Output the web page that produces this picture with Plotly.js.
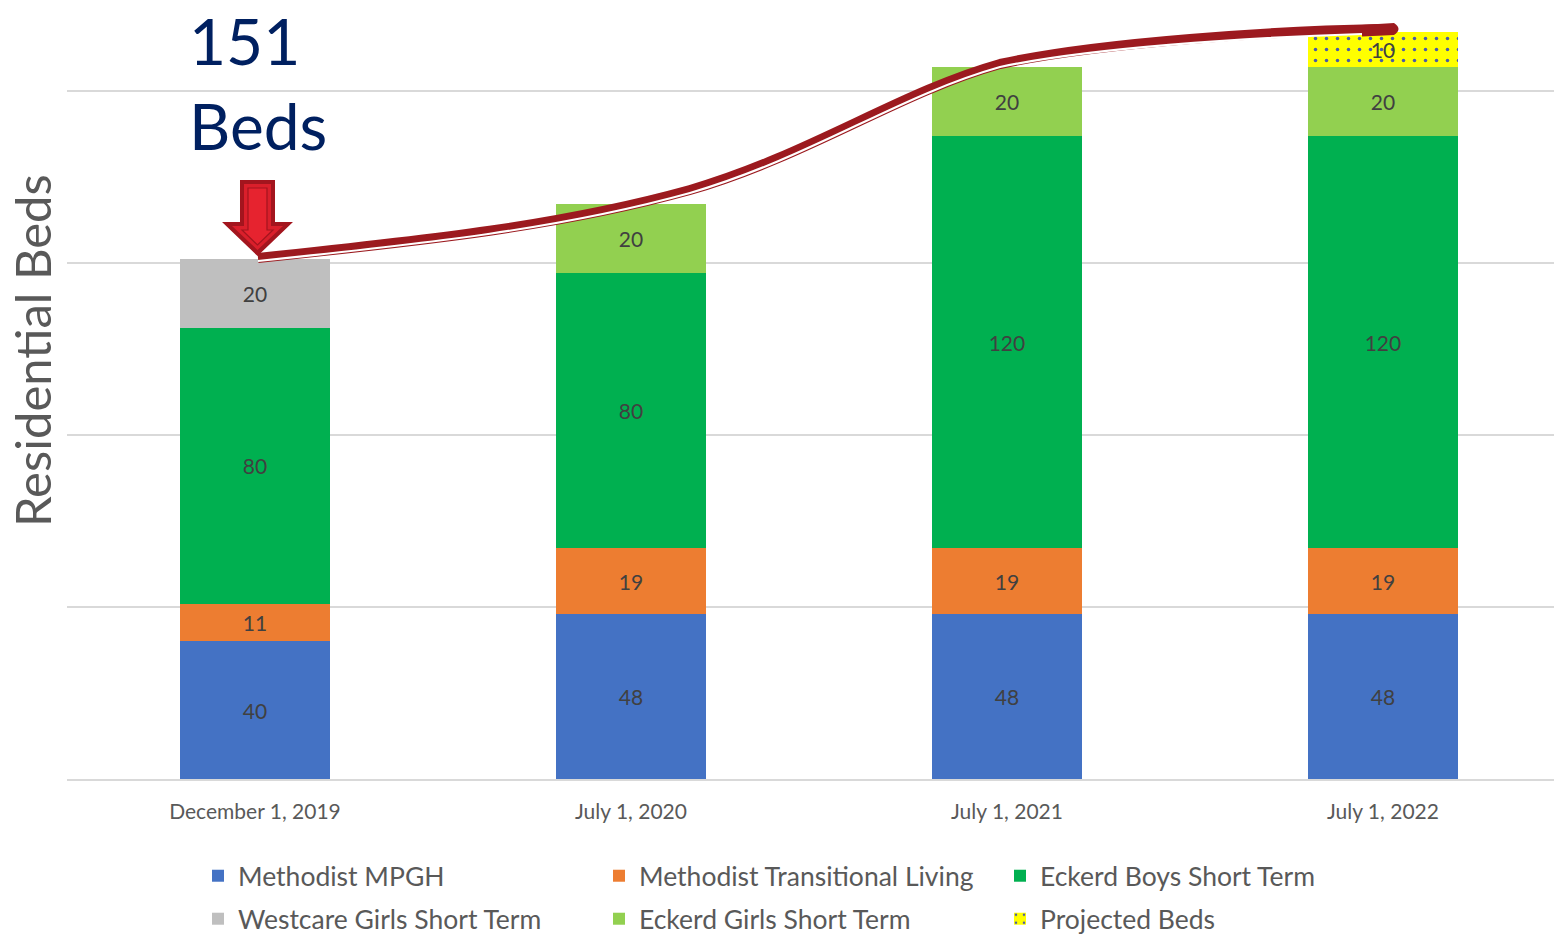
<!DOCTYPE html>
<html>
<head>
<meta charset="utf-8">
<script src="https://cdn.plot.ly/plotly-3.0.1.min.js"></script>
<style>html,body{margin:0;padding:0;background:#fff;}#chart{width:1554px;height:934px;}</style>
</head>
<body>
<div id="chart"></div>
<script>
const categories = ['December 1, 2019', 'July 1, 2020', 'July 1, 2021', 'July 1, 2022'];
const methodistMPGH = [40, 48, 48, 48];
const methodistTransitional = [11, 19, 19, 19];
const eckerdBoysShortTerm = [80, 80, 120, 120];
const westcareGirlsShortTerm = [20, null, null, null];
const eckerdGirlsShortTerm = [null, 20, 20, 20];
const projectedBeds = [null, null, null, 10];
const calloutLines = ['151', 'Beds'];
const yTitle = 'Residential Beds';

const W = 1554, H = 934;
const M = {l: 67, r: 0, t: 22, b: 155, autoexpand: false};
const PW = W - M.l - M.r, PH = H - M.t - M.b;
const px = x => ((x - M.l) / PW).toFixed(5);
const py = y => ((H - M.b - y) / PH).toFixed(5);
// build an SVG path (pixel coords) converted to paper coords; one command per point group
function path(cmds) {
  return cmds.map(c => {
    const pts = [];
    for (let i = 0; i < c[1].length; i += 2) pts.push(px(c[1][i]) + ',' + py(c[1][i + 1]));
    return c[0] + (pts.length ? ' ' + pts.join(' ') : '');
  }).join(' ');
}
function poly(points) {
  const cmds = [['M', points[0]]];
  for (let i = 1; i < points.length; i++) cmds.push(['L', points[i]]);
  cmds.push(['Z', []]);
  return path(cmds);
}

const FONT = 'Lato, "Open Sans", sans-serif';
const labelFont = {family: FONT, size: 21, color: '#404040'};
function barTrace(name, y, color, extra) {
  return Object.assign({
    type: 'bar', name: name, x: categories, y: y,
    marker: {color: color, line: {width: 0}},
    texttemplate: '%{y}', textposition: 'inside', insidetextanchor: 'middle',
    textfont: labelFont, constraintext: 'none', hoverinfo: 'x+y+name'
  }, extra || {});
}

const data = [
  barTrace('Methodist MPGH', methodistMPGH, '#4472C4', {legend: 'legend'}),
  barTrace('Methodist Transitional Living', methodistTransitional, '#ED7D31', {legend: 'legend'}),
  barTrace('Eckerd Boys Short Term', eckerdBoysShortTerm, '#00B050', {legend: 'legend'}),
  barTrace('Westcare Girls Short Term', westcareGirlsShortTerm, '#BFBFBF', {legend: 'legend2'}),
  barTrace('Eckerd Girls Short Term', eckerdGirlsShortTerm, '#92D050', {legend: 'legend2'}),
  barTrace('Projected Beds', projectedBeds, '#FFFF00', {
    legend: 'legend2',
    marker: {color: '#FFFF00', line: {width: 0},
      pattern: {shape: '.', fgcolor: '#4A5BA8', bgcolor: '#FFFF00', size: 11, solidity: 0.08}}
  })
];

// curved arrow (decoration)
const curve = [
  ['M', [258, 258]],
  ['C', [430, 240, 560, 226, 690, 190]],
  ['C', [810, 155, 900, 92, 1000, 64]],
  ['C', [1100, 42, 1280, 31, 1380, 29]]
];
const curveWhite = [
  ['M', [258, 261]],
  ['C', [430, 243, 560, 229, 690, 193]],
  ['C', [810, 158, 900, 95, 1000, 67]],
  ['C', [1090, 48, 1240, 38, 1362, 34]]
];
const dark = '#9C1A1F';
const shapes = [
  {type: 'path', xref: 'paper', yref: 'paper', path: path(curve), line: {color: dark, width: 10}, layer: 'above'},
  {type: 'path', xref: 'paper', yref: 'paper', path: path(curveWhite), line: {color: '#FFFFFF', width: 2.2}, layer: 'above'},
  {type: 'path', xref: 'paper', yref: 'paper', layer: 'above', fillcolor: dark, line: {width: 0},
    path: path([['M', [1362, 25]], ['L', [1394, 23]], ['Q', [1403, 29, 1394, 35]], ['L', [1362, 36.5]], ['Z', []]])},
  // down arrow
  {type: 'path', xref: 'paper', yref: 'paper', layer: 'above', fillcolor: '#A3151E', line: {width: 0},
    path: poly([[240, 180], [275, 180], [275, 222], [293, 222], [257.5, 256], [222, 222], [240, 222]])},
  {type: 'path', xref: 'paper', yref: 'paper', layer: 'above', fillcolor: '#DA1F2B', line: {width: 0},
    path: poly([[244, 184], [271, 184], [271, 226], [283, 226], [257.5, 250], [232, 226], [244, 226]])},
  {type: 'path', xref: 'paper', yref: 'paper', layer: 'above', fillcolor: '#E6232F', line: {width: 1.2, color: '#A3151E'},
    path: poly([[248, 188], [267, 188], [267, 230], [273, 230], [257.5, 245], [242, 230], [248, 230]])}
];

const annotations = [
  {xref: 'paper', yref: 'paper', x: px(187), y: py(40), xanchor: 'left', yanchor: 'middle', showarrow: false,
    text: calloutLines[0], font: {family: FONT, size: 64, color: '#002060'}},
  {xref: 'paper', yref: 'paper', x: px(187), y: py(126), xanchor: 'left', yanchor: 'middle', showarrow: false,
    text: calloutLines[1], font: {family: FONT, size: 64, color: '#002060'}},
  {xref: 'paper', yref: 'paper', x: px(32), y: py(350), xanchor: 'center', yanchor: 'middle', showarrow: false,
    textangle: -90, text: yTitle, font: {family: FONT, size: 49, color: '#595959'}}
];

const legendCommon = {
  orientation: 'h', xref: 'paper', yref: 'paper', xanchor: 'left', yanchor: 'middle',
  entrywidth: 356, entrywidthmode: 'pixels', traceorder: 'normal',
  font: {family: FONT, size: 26.5, color: '#595959'},
  bgcolor: 'rgba(0,0,0,0)', borderwidth: 0, itemclick: false, itemdoubleclick: false
};

const layout = {
  width: W, height: H,
  margin: M,
  paper_bgcolor: '#FFFFFF', plot_bgcolor: '#FFFFFF',
  barmode: 'stack', bargap: 0.6,
  font: {family: FONT, color: '#595959'},
  xaxis: {
    type: 'category', range: [-0.5, 3.455], showgrid: false, zeroline: false,
    showline: true, linecolor: '#D9D9D9', linewidth: 1.5, ticks: '', ticklabelstandoff: 13,
    tickfont: {family: FONT, size: 21, color: '#595959'}, fixedrange: true
  },
  yaxis: {
    range: [0, 220], dtick: 50, tick0: 0, showgrid: true, gridcolor: '#D9D9D9', gridwidth: 1.5,
    zeroline: false, showline: false, showticklabels: false, ticks: '', fixedrange: true
  },
  showlegend: true,
  legend: Object.assign({}, legendCommon, {x: px(198), y: py(876)}),
  legend2: Object.assign({}, legendCommon, {x: px(198), y: py(919)}),
  shapes: shapes,
  annotations: annotations
};

Plotly.newPlot('chart', data, layout, {displayModeBar: false, responsive: false});
</script>
</body>
</html>
